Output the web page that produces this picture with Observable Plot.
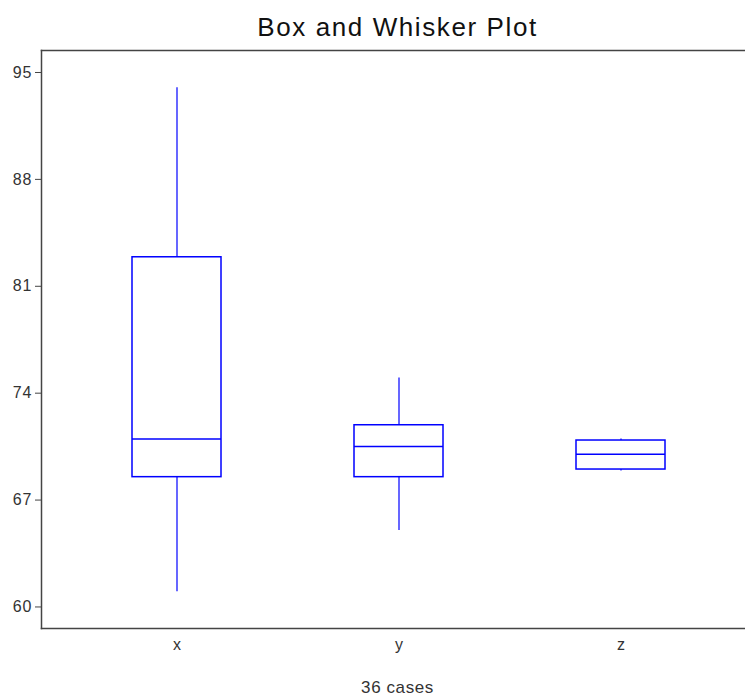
<!DOCTYPE html>
<html>
<head>
<meta charset="utf-8">
<script src="https://cdn.jsdelivr.net/npm/d3@7"></script>
<script src="https://cdn.jsdelivr.net/npm/@observablehq/plot@0.6"></script>
<style>
  html, body { margin: 0; padding: 0; background: #fff; }
  body { width: 745px; height: 696px; overflow: hidden; font-family: "Liberation Sans", Arial, sans-serif; }
  #title { height: 40px; line-height: 54px; font-size: 26px; color: #111; text-align: center; width: 795px; letter-spacing: 1.6px; }
  #caption { height: 31px; line-height: 46px; font-size: 17px; color: #333; text-align: center; width: 795px; letter-spacing: 0.6px; }
  svg { display: block; }
  svg g[aria-label="y-axis tick label"] text { letter-spacing: 1px; }
</style>
</head>
<body>
<div id="title">Box and Whisker Plot</div>
<div id="chart"></div>
<div id="caption">36 cases</div>
<script>
const categories = ["x", "y", "z"];
const minVals = [61, 65, 68.9];
const q1Vals = [68.5, 68.5, 69];
const medVals = [71, 70.5, 70];
const q3Vals = [82.9, 71.9, 70.9];
const maxVals = [94, 75, 71];
const yTicks = [60, 67, 74, 81, 88, 95];

const rows = categories.map((c, i) => ({
  name: c, min: minVals[i], q1: q1Vals[i], med: medVals[i], q3: q3Vals[i], max: maxVals[i]
}));

const blue = "#0000ff";
const plot = Plot.plot({
  width: 745,
  height: 625,
  marginTop: 10,
  marginBottom: 37,
  marginLeft: 41,
  marginRight: 0,
  style: { fontFamily: "'Liberation Sans', Arial, sans-serif", color: "#333", background: "#fff" },
  x: { type: "band", domain: categories, range: [131, 665], paddingInner: 0.6, paddingOuter: 0 },
  y: { domain: [58.59, 96.44] },
  marks: [
    Plot.frame({ anchor: "left", stroke: "#444", strokeWidth: 1.5 }),
    Plot.frame({ anchor: "top", stroke: "#444", strokeWidth: 1.5 }),
    Plot.frame({ anchor: "bottom", stroke: "#444", strokeWidth: 1.5 }),
    Plot.axisY({ ticks: yTicks, tickSize: 6, tickPadding: 3, fontSize: 16, stroke: "#444", label: null }),
    Plot.axisX({ tickSize: 0, tickPadding: 10, fontSize: 16, label: null }),
    Plot.ruleX(rows, { x: "name", y1: "q3", y2: "max", stroke: blue, strokeWidth: 1.2 }),
    Plot.ruleX(rows, { x: "name", y1: "min", y2: "q1", stroke: blue, strokeWidth: 1.2 }),
    Plot.barY(rows, { x: "name", y1: "q1", y2: "q3", fill: "none", stroke: blue, strokeWidth: 1.5 }),
    Plot.tickY(rows, { x: "name", y: "med", stroke: blue, strokeWidth: 1.5 })
  ]
});
document.getElementById("chart").appendChild(plot);
</script>
</body>
</html>
